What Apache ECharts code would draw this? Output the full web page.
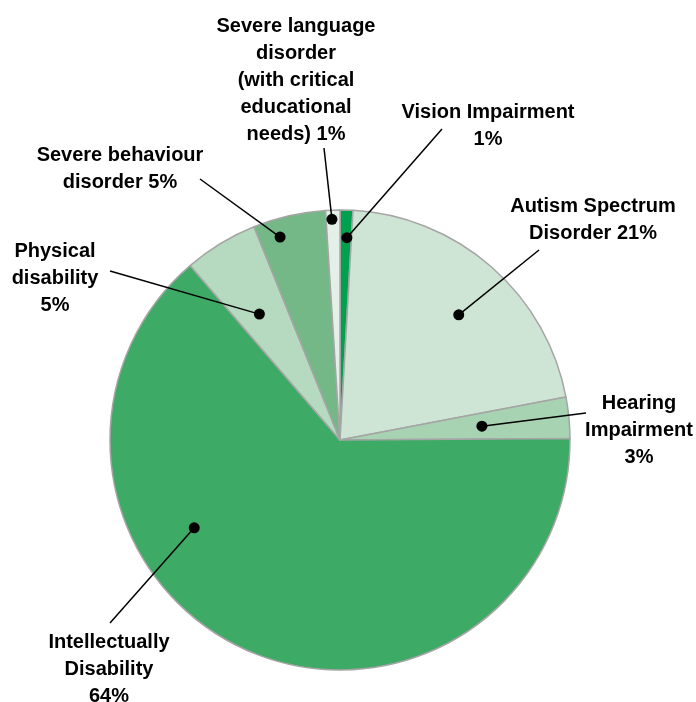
<!DOCTYPE html>
<html>
<head>
<meta charset="utf-8">
<script src="https://cdn.jsdelivr.net/npm/echarts@6/dist/echarts.min.js"></script>
<style>
  html, body { margin: 0; padding: 0; background: #fff; }
</style>
</head>
<body>
<div id="main" style="width: 696px;height:702px;"></div>
<script>
// data, clockwise from 12 o'clock
const names = ['Vision Impairment', 'Autism Spectrum Disorder', 'Hearing Impairment',
  'Intellectually Disability', 'Physical disability', 'Severe behaviour disorder',
  'Severe language disorder (with critical educational needs)']
const values = [0.9, 21.1, 2.9, 63.8, 5.2, 5.1, 1.0]
const labelTexts = [
  'Vision Impairment\n1%',
  'Autism Spectrum\nDisorder 21%',
  'Hearing\nImpairment\n3%',
  'Intellectually\nDisability\n64%',
  'Physical\ndisability\n5%',
  'Severe behaviour\ndisorder 5%',
  'Severe language\ndisorder\n(with critical\neducational\nneeds) 1%'
]
const colors = ['#00A14E', '#CEE5D5', '#A7D3B3', '#3DAA65', '#B5DABF', '#73B886', '#E4F0E7']

// label block (centre x, top y) and leader end point
const labelPos = [[488, 99], [593, 193], [639, 390], [109, 629], [55, 238], [120, 142], [296, 13]]
const leaderEnd = [[442, 129], [539, 250], [586, 413], [110, 623], [110, 271], [200, 179], [324, 148]]
// dot place inside slice: [fraction along the arc, fraction of radius]
const dotPlace = [[0.6, 0.88], [0.53, 0.75], [0.5, 0.62], [0.65, 0.74], [0.43, 0.65], [0.3, 0.92], [0.42, 0.96]]

var myChart = echarts.init(document.getElementById('main'))

const option = {
  animation: false,
  color: colors,
  series: [
    {
      type: 'pie',
      center: [340, 440],
      radius: 230,
      startAngle: 90,
      clockwise: true,
      itemStyle: {
        borderColor: '#A5A5A5',
        borderWidth: 1.5
      },
      label: {
        show: true,
        position: 'outside',
        formatter: p => labelTexts[p.dataIndex],
        color: '#000',
        fontFamily: 'Liberation Sans, Arial, sans-serif',
        fontWeight: 'bold',
        fontSize: 20,
        lineHeight: 27,
        align: 'center',
        overflow: 'none'
      },
      labelLine: { show: false },
      labelLayout: p => ({
        x: labelPos[p.dataIndex][0],
        y: labelPos[p.dataIndex][1],
        width: 300,
        align: 'center',
        verticalAlign: 'top'
      }),
      emphasis: { disabled: true },
      data: names.map((n, i) => ({ name: n, value: values[i] }))
    }
  ]
}
myChart.setOption(option)

// leader lines + dots, placed from the pie's own layout
const seriesData = myChart.getModel().getSeriesByIndex(0).getData()
const graphics = []
names.forEach((n, i) => {
  const lay = seriesData.getItemLayout(i)
  const a = lay.startAngle + dotPlace[i][0] * (lay.endAngle - lay.startAngle)
  const rr = lay.r * dotPlace[i][1]
  const x = lay.cx + rr * Math.cos(a)
  const y = lay.cy + rr * Math.sin(a)
  graphics.push({
    type: 'line',
    z: 100,
    shape: { x1: x, y1: y, x2: leaderEnd[i][0], y2: leaderEnd[i][1] },
    style: { stroke: '#000', lineWidth: 1.5 }
  })
  graphics.push({
    type: 'circle',
    z: 101,
    shape: { cx: x, cy: y, r: 5.5 },
    style: { fill: '#000' }
  })
})
myChart.setOption({ graphic: graphics })
</script>
</body>
</html>
